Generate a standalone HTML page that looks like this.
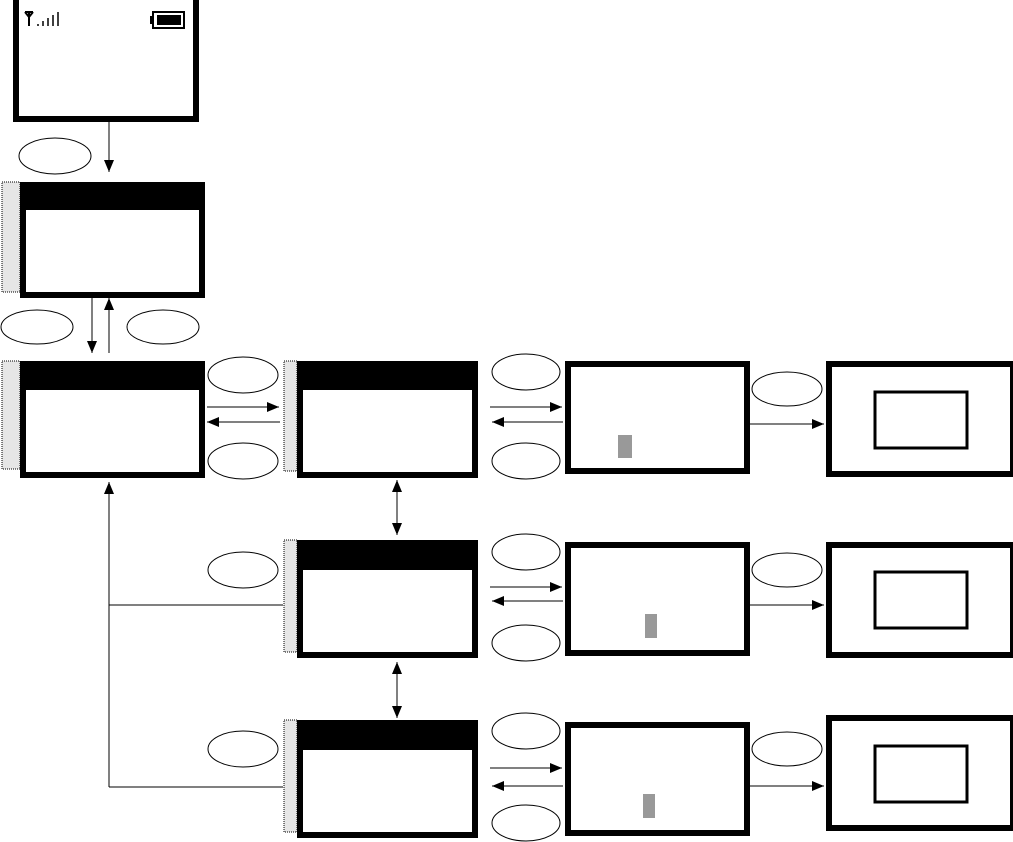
<!DOCTYPE html>
<html><head><style>body{margin:0;background:#fff}svg{display:block}</style></head><body>
<svg width="1013" height="842" viewBox="0 0 1013 842" xmlns="http://www.w3.org/2000/svg">
<defs>
<marker id="a" markerWidth="12" markerHeight="10" refX="12" refY="5" orient="auto" markerUnits="userSpaceOnUse"><path d="M0,0 L12,5 L0,10 Z" fill="#000"/></marker>
<marker id="s" markerWidth="12" markerHeight="10" refX="0" refY="5" orient="auto" markerUnits="userSpaceOnUse"><path d="M12,0 L0,5 L12,10 Z" fill="#000"/></marker>
</defs>
<g fill="none" stroke="#000">
<!-- top screen -->
<rect x="16" y="-3" width="180" height="122" stroke-width="6"/>
<!-- signal -->
<path d="M25,12 h8 M29,12 v14 M25,12 l4,5 l4,-5" stroke-width="2"/>
<path d="M38,26 v-2 M43,26 v-5 M48,26 v-8 M53,26 v-11 M58,26 v-14" stroke-width="1.5"/>
<rect x="153" y="12" width="31" height="16" stroke-width="2"/>
<rect x="157" y="15" width="24" height="10" fill="#000" stroke="none"/>
<rect x="150" y="16" width="3" height="8" fill="#000" stroke="none"/>

<line x1="109" y1="122" x2="109" y2="172" marker-end="url(#a)"/>
<ellipse cx="55" cy="156" rx="36" ry="18"/>

<!-- screen 1 -->
<rect x="2" y="182" width="18" height="110" fill="#e6e6e6" stroke-dasharray="1,1"/>
<rect x="23" y="185" width="179" height="110" stroke-width="6"/>
<rect x="20" y="182" width="185" height="28" fill="#000" stroke="none"/>
<line x1="92" y1="298" x2="92" y2="353" marker-end="url(#a)"/>
<line x1="109" y1="353" x2="109" y2="298" marker-end="url(#a)"/>
<ellipse cx="37" cy="327" rx="36" ry="17"/>
<ellipse cx="163" cy="327" rx="36" ry="17"/>

<!-- screen 2 -->
<rect x="2" y="361" width="18" height="108" fill="#e6e6e6" stroke-dasharray="1,1"/>
<rect x="23" y="364" width="179" height="111" stroke-width="6"/>
<rect x="20" y="361" width="185" height="29" fill="#000" stroke="none"/>
<ellipse cx="243" cy="375" rx="35" ry="18"/>
<ellipse cx="243" cy="461" rx="35" ry="18"/>
<line x1="207" y1="407" x2="279" y2="407" marker-end="url(#a)"/>
<line x1="280" y1="422" x2="207" y2="422" marker-end="url(#a)"/>

<!-- vertical return line -->
<line x1="109" y1="787" x2="109" y2="482" marker-end="url(#a)"/>
<line x1="109" y1="605" x2="283" y2="605"/>
<line x1="109" y1="787" x2="283" y2="787"/>
<ellipse cx="243" cy="570" rx="35" ry="18"/>
<ellipse cx="243" cy="749" rx="35" ry="18"/>

<!-- rows -->
<g id="r1">
<rect x="284" y="361" width="13" height="110" fill="#e6e6e6" stroke-dasharray="1,1"/>
<rect x="300" y="364" width="175" height="111" stroke-width="6"/>
<rect x="297" y="361" width="181" height="29" fill="#000" stroke="none"/>
<ellipse cx="526" cy="372" rx="34" ry="18"/>
<ellipse cx="526" cy="461" rx="34" ry="18"/>
<line x1="490" y1="407" x2="562" y2="407" marker-end="url(#a)"/>
<line x1="563" y1="422" x2="492" y2="422" marker-end="url(#a)"/>
<rect x="568" y="364" width="179" height="107" stroke-width="6"/>
<rect x="618" y="435" width="14" height="23" fill="#999" stroke="none"/>
<ellipse cx="787" cy="389" rx="35" ry="17"/>
<line x1="750" y1="424" x2="824" y2="424" marker-end="url(#a)"/>
<rect x="829" y="364" width="184" height="110" stroke-width="6"/>
<rect x="875" y="392" width="92" height="56" stroke-width="3"/>
</g>

<line x1="397" y1="480" x2="397" y2="535" marker-start="url(#s)" marker-end="url(#a)"/>

<rect x="284" y="540" width="13" height="112" fill="#e6e6e6" stroke-dasharray="1,1"/>
<rect x="300" y="543" width="175" height="112" stroke-width="6"/>
<rect x="297" y="540" width="181" height="30" fill="#000" stroke="none"/>
<ellipse cx="526" cy="552" rx="34" ry="18"/>
<ellipse cx="526" cy="643" rx="34" ry="18"/>
<line x1="490" y1="587" x2="562" y2="587" marker-end="url(#a)"/>
<line x1="563" y1="601" x2="492" y2="601" marker-end="url(#a)"/>
<rect x="568" y="545" width="179" height="108" stroke-width="6"/>
<rect x="645" y="614" width="12" height="24" fill="#999" stroke="none"/>
<ellipse cx="787" cy="570" rx="35" ry="17"/>
<line x1="750" y1="605" x2="824" y2="605" marker-end="url(#a)"/>
<rect x="829" y="545" width="184" height="110" stroke-width="6"/>
<rect x="875" y="572" width="92" height="56" stroke-width="3"/>

<line x1="397" y1="662" x2="397" y2="718" marker-start="url(#s)" marker-end="url(#a)"/>

<rect x="284" y="720" width="13" height="112" fill="#e6e6e6" stroke-dasharray="1,1"/>
<rect x="300" y="723" width="175" height="112" stroke-width="6"/>
<rect x="297" y="720" width="181" height="30" fill="#000" stroke="none"/>
<ellipse cx="526" cy="731" rx="34" ry="18"/>
<ellipse cx="526" cy="823" rx="34" ry="18"/>
<line x1="490" y1="768" x2="562" y2="768" marker-end="url(#a)"/>
<line x1="563" y1="786" x2="492" y2="786" marker-end="url(#a)"/>
<rect x="568" y="725" width="179" height="108" stroke-width="6"/>
<rect x="643" y="794" width="12" height="24" fill="#999" stroke="none"/>
<ellipse cx="787" cy="749" rx="35" ry="17"/>
<line x1="750" y1="786" x2="824" y2="786" marker-end="url(#a)"/>
<rect x="829" y="718" width="184" height="110" stroke-width="6"/>
<rect x="875" y="746" width="92" height="56" stroke-width="3"/>
</g>
</svg>
</body></html>
